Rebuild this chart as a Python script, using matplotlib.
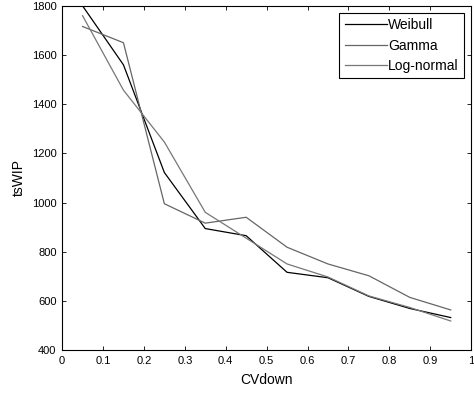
import matplotlib
matplotlib.use("Agg")
from matplotlib import pyplot as plt
import numpy as np

# CVdown values
cv = [0.05, 0.15, 0.25, 0.35, 0.45, 0.55, 0.65, 0.75, 0.85, 0.95]

weibull = [1800, 1560, 1122, 894, 865, 716, 694, 618, 569, 532]
gamma = [1716, 1650, 995, 916, 940, 818, 750, 702, 614, 563]
lognormal = [1760, 1457, 1246, 960, 855, 750, 697, 620, 573, 518]

plt.rcParams['font.family'] = ['Liberation Sans', 'DejaVu Sans']

fig = plt.figure(figsize=(4.74, 4.03), dpi=100)
ax = fig.add_axes([0.131, 0.1315, 0.863, 0.854])

ax.plot(cv, weibull, color='black', lw=0.9, label='Weibull')
ax.plot(cv, gamma, color='#666666', lw=0.9, label='Gamma')
ax.plot(cv, lognormal, color='#777777', lw=0.9, label='Log-normal')

ax.set_xlim(0, 1)
ax.set_ylim(400, 1800)
ax.set_xticks(np.arange(0, 1.01, 0.1))
ax.set_xticklabels(['0', '0.1', '0.2', '0.3', '0.4', '0.5', '0.6', '0.7', '0.8', '0.9', '1'])
ax.set_yticks(range(400, 1801, 200))
ax.tick_params(direction='in', top=True, right=True, labelsize=8, length=3, width=0.6, pad=4)
for s in ax.spines.values():
    s.set_linewidth(0.8)

ax.set_xlabel('CVdown', fontsize=10, labelpad=5)
ax.set_ylabel('tsWIP', fontsize=10)

leg = ax.legend(loc='upper right', fontsize=10, fancybox=False, framealpha=1,
                edgecolor='black', handlelength=3.0, handletextpad=0.1,
                borderpad=0.4, labelspacing=0.45, borderaxespad=0.5)
leg.get_frame().set_linewidth(0.8)

fig.savefig('out.png', dpi=100)
